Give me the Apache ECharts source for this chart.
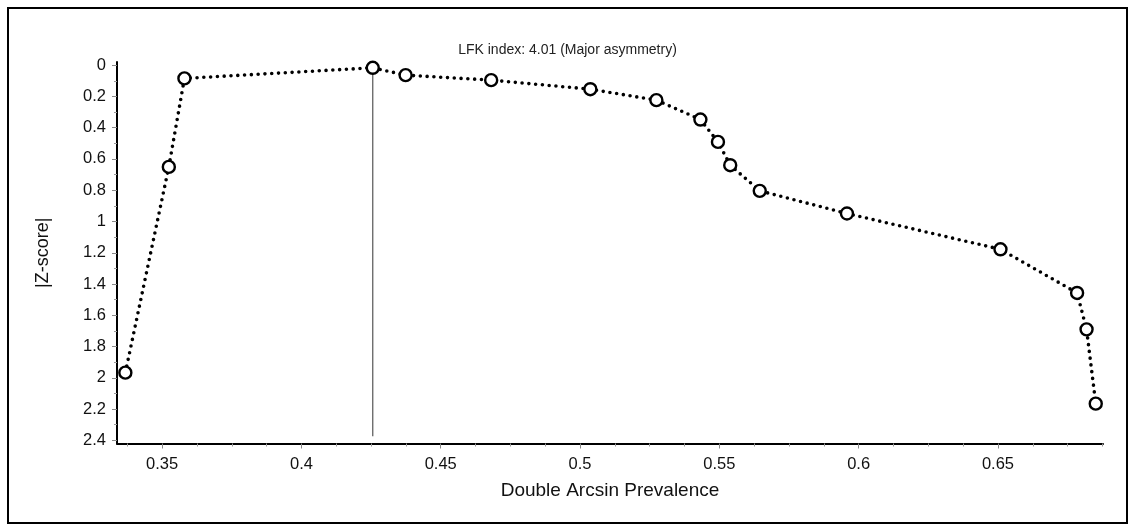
<!DOCTYPE html>
<html>
<head>
<meta charset="utf-8">
<script src="https://cdn.jsdelivr.net/npm/echarts@6/dist/echarts.min.js"></script>
<style>
  html, body { margin: 0; padding: 0; background: #fff; }
  #chart { width: 1135px; height: 527px; }
</style>
</head>
<body>
<div id="chart"></div>
<script>
// Doi plot: |Z-score| against double arcsin transformed prevalence
const prevalence = [0.3368, 0.3524, 0.3580, 0.4256, 0.4374, 0.4681, 0.5037, 0.5274, 0.5432,
                    0.5495, 0.5539, 0.5645, 0.5958, 0.6509, 0.6784, 0.6818, 0.6851];
const zScore     = [1.967, 0.651, 0.085, 0.017, 0.064, 0.096, 0.154, 0.224, 0.348,
                    0.491, 0.640, 0.804, 0.949, 1.178, 1.457, 1.690, 2.165];

const plotTitle = 'LFK index: 4.01 (Major asymmetry)';
const xName = 'Double Arcsin Prevalence';
const yName = '|Z-score|';

const xTickLabels = [0.35, 0.4, 0.45, 0.5, 0.55, 0.6, 0.65];
const yTickLabels = [0, 0.2, 0.4, 0.6, 0.8, 1, 1.2, 1.4, 1.6, 1.8, 2, 2.2, 2.4];

// axis extents
const xRange = [0.3338, 0.6877];
const yRange = [-0.02, 2.42];
// lower end of the reference line drawn at the least-deviant study
const refLineEnd = 2.374;

// minor tick positions between the labelled ticks
function minorTicks(start, step, lo, hi, majors) {
  const out = [];
  for (let i = 0; ; i++) {
    const v = +(start + i * step).toFixed(6);
    if (v > hi) break;
    if (v >= lo && !majors.some(m => Math.abs(m - v) < 1e-9)) out.push(v);
  }
  return out;
}
const xMinor = minorTicks(0.3375, 0.0125, xRange[0], xRange[1], xTickLabels);
const yMinor = minorTicks(0.1, 0.2, 0, 2.4, yTickLabels);

const points = prevalence.map((x, i) => [x, zScore[i]]);
const minIdx = zScore.indexOf(Math.min(...zScore));
const refX = prevalence[minIdx];

const FONT = 'Liberation Sans, Arial, sans-serif';
const chart = echarts.init(document.getElementById('chart'), null, { renderer: 'canvas' });

const baseX = {
  type: 'value', min: xRange[0], max: xRange[1], position: 'bottom',
  splitLine: { show: false }
};
const baseY = {
  type: 'value', min: yRange[0], max: yRange[1], inverse: true, position: 'left',
  splitLine: { show: false }
};

chart.setOption({
  animation: false,
  backgroundColor: '#fff',
  title: {
    text: plotTitle, left: 'center', top: 38,
    textStyle: { fontFamily: FONT, fontSize: 14, fontWeight: 'normal', color: '#222' }
  },
  grid: { left: 117, right: 32, top: 62, bottom: 83.5, containLabel: false },
  xAxis: [
    Object.assign({}, baseX, {
      name: xName, nameLocation: 'middle', nameGap: 38,
      nameTextStyle: { fontFamily: FONT, fontSize: 19, color: '#111' },
      axisLine: { show: true, onZero: false, lineStyle: { color: '#000', width: 2 } },
      axisTick: { show: true, length: 5, lineStyle: { color: '#888' }, customValues: xTickLabels },
      axisLabel: { fontFamily: FONT, fontSize: 16.5, color: '#111', margin: 12, customValues: xTickLabels }
    }),
    Object.assign({}, baseX, {
      axisLine: { show: false, onZero: false },
      axisTick: { show: true, length: 3, lineStyle: { color: '#999' }, customValues: xMinor },
      axisLabel: { show: false }
    })
  ],
  yAxis: [
    Object.assign({}, baseY, {
      name: yName, nameLocation: 'middle', nameGap: 65, nameRotate: 90,
      nameTextStyle: { fontFamily: FONT, fontSize: 18, color: '#111' },
      axisLine: { show: true, onZero: false, lineStyle: { color: '#000', width: 2 } },
      axisTick: { show: true, length: 5, lineStyle: { color: '#888' }, customValues: yTickLabels },
      axisLabel: { fontFamily: FONT, fontSize: 16.5, color: '#111', margin: 11, customValues: yTickLabels }
    }),
    Object.assign({}, baseY, {
      axisLine: { show: false, onZero: false },
      axisTick: { show: true, length: 3, lineStyle: { color: '#999' }, customValues: yMinor },
      axisLabel: { show: false }
    })
  ],
  series: [
    {
      type: 'line', xAxisIndex: 0, yAxisIndex: 0,
      data: [[refX, zScore[minIdx]], [refX, refLineEnd]],
      symbol: 'none', silent: true,
      lineStyle: { color: '#555', width: 1.2 }
    },
    {
      type: 'line', xAxisIndex: 0, yAxisIndex: 0,
      data: points,
      symbol: 'circle', symbolSize: 12,
      itemStyle: { color: '#fff', borderColor: '#000', borderWidth: 2.4 },
      lineStyle: { color: '#000', width: 3.6, type: [0, 6.8], cap: 'round' },
      z: 3
    }
  ],
  graphic: [{
    type: 'rect', silent: true, z: -1,
    shape: { x: 8, y: 8, width: 1119, height: 515 },
    style: { fill: 'none', stroke: '#000', lineWidth: 2 }
  }]
});
</script>
</body>
</html>
